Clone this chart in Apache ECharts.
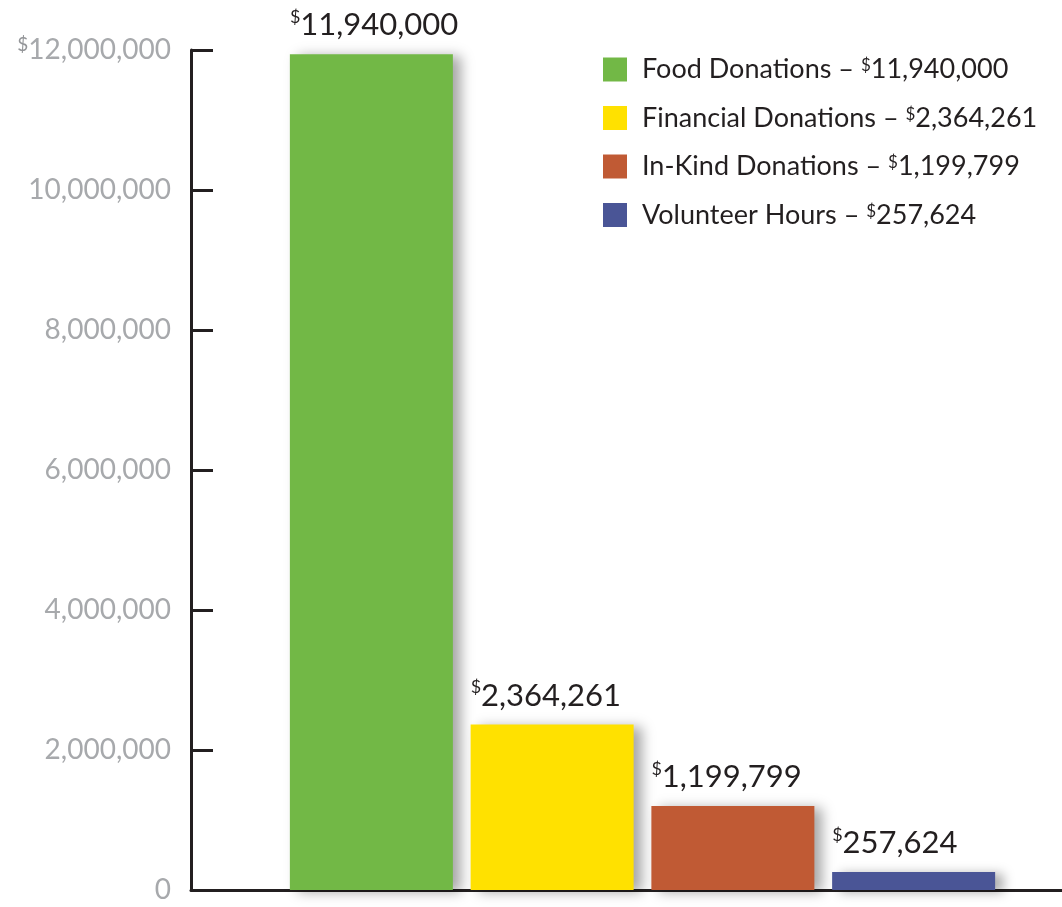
<!DOCTYPE html>
<html>
<head>
<meta charset="utf-8">
<script src="https://cdn.jsdelivr.net/npm/echarts@6/dist/echarts.min.js"></script>
<style>
  html, body { margin: 0; padding: 0; background: #fff; }
  #chart { width: 1062px; height: 907px; }
</style>
</head>
<body>
<div id="chart"></div>
<script>
// data
const categories = ["Food Donations", "Financial Donations", "In-Kind Donations", "Volunteer Hours"];
const values = [11940000, 2364261, 1199799, 257624];
const colors = ["#72b846", "#ffe100", "#c05a34", "#4a5596"];
const yTicks = { min: 0, max: 12000000, interval: 2000000 };

const fmt = (v) => v.toLocaleString("en-US");
const ink = "#231f20";
const font = "Lato";

const chart = echarts.init(document.getElementById("chart"));

const series = categories.map((name, i) => ({
  name: name,
  type: "bar",
  stack: "all",
  barWidth: 163,
  data: categories.map((c, j) => (j === i ? values[i] : "-")),
  itemStyle: {
    color: colors[i],
    shadowColor: "rgba(0,0,0,0.35)",
    shadowBlur: 12,
    shadowOffsetX: 8,
    shadowOffsetY: 2,
  },
  label: {
    show: true,
    position: [0, -46],
    formatter: (p) => "{s|$}{v|" + fmt(p.value) + "}",
    rich: {
      s: { fontFamily: font, fontSize: 18, color: ink, verticalAlign: "top", lineHeight: 34 },
      v: { fontFamily: font, fontSize: 31, color: ink, lineHeight: 34 },
    },
  },
}));

const option = {
  animation: false,
  color: colors,
  legend: {
    orient: "vertical",
    left: 598,
    top: 51,
    icon: "rect",
    itemWidth: 24,
    itemHeight: 24,
    itemGap: 21.5,
    data: categories,
    formatter: (name) => name + " – {s|$}" + fmt(values[categories.indexOf(name)]),
    textStyle: {
      fontFamily: font,
      fontSize: 27,
      lineHeight: 24,
      color: ink,
      padding: [0, 0, 0, 10],
      rich: {
        s: { fontFamily: font, fontSize: 17, color: ink, verticalAlign: "top", lineHeight: 24 },
      },
    },
  },
  grid: [
    { left: 281, right: 58, top: 50, bottom: 17 },
    { left: 191, right: 0, top: 50, bottom: 17 },
  ],
  xAxis: [
    {
      type: "category",
      gridIndex: 0,
      data: categories,
      axisLine: { show: false },
      axisTick: { show: false },
      axisLabel: { show: false },
    },
    {
      type: "value",
      gridIndex: 1,
      axisLine: { show: true, lineStyle: { color: ink, width: 3 } },
      axisTick: { show: false },
      axisLabel: { show: false },
      splitLine: { show: false },
    },
  ],
  yAxis: [
    {
      type: "value",
      gridIndex: 0,
      offset: 90,
      min: yTicks.min,
      max: yTicks.max,
      interval: yTicks.interval,
      axisLine: { show: true, lineStyle: { color: ink, width: 3 } },
      axisTick: { show: true, inside: true, length: 22, lineStyle: { color: ink, width: 3 } },
      splitLine: { show: false },
      axisLabel: {
        margin: 20,
        fontFamily: font,
        fontSize: 28,
        color: "#a7a9ac",
        formatter: (v) => (v === yTicks.max ? "{s|$}" + fmt(v) : fmt(v)),
        rich: {
          s: { fontFamily: font, fontSize: 19, color: "#939598", verticalAlign: "top", lineHeight: 30 },
        },
      },
    },
    {
      type: "value",
      gridIndex: 1,
      show: false,
    },
  ],
  series: series,
};

chart.setOption(option);
</script>
</body>
</html>
